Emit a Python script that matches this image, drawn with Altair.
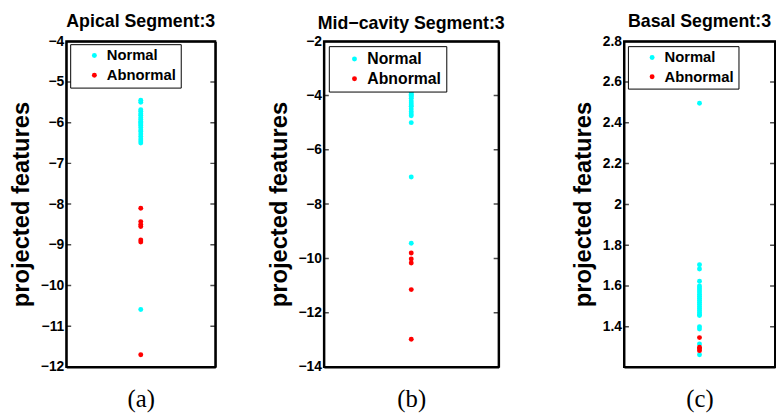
import altair as alt
import pandas as pd

# ---------------- data ----------------
a_normal = [-5.45, -5.5, -5.68, -5.72, -5.78, -5.82, -5.88, -5.92, -5.97, -6.0,
            -6.03, -6.07, -6.12, -6.18, -6.22, -6.28, -6.34, -6.4, -6.45, -6.5, -10.59]
a_abnormal = [-8.1, -8.43, -8.5, -8.55, -8.88, -8.93, -11.7]

b_normal = [-3.85, -3.9, -3.95, -4.0, -4.05, -4.1, -4.2, -4.28, -4.35, -4.4,
            -4.5, -4.6, -4.68, -4.75, -5.0, -7.0, -9.44]
b_abnormal = [-9.8, -10.02, -10.17, -11.15, -12.98]

c_normal = [2.496, 1.704, 1.683, 1.623, 1.60, 1.59, 1.58, 1.57, 1.56, 1.55, 1.54,
            1.53, 1.52, 1.51, 1.50, 1.49, 1.48, 1.47, 1.46, 1.455, 1.40, 1.389,
            1.316, 1.263]
c_abnormal = [1.347, 1.30, 1.292, 1.283]

titles = ["Apical Segment:3", "Mid\u2212cavity Segment:3", "Basal Segment:3"]
captions = ["(a)", "(b)", "(c)"]
y_domains = [[-12, -4], [-14, -2], [1.203, 2.8]]
y_ticks = [
    [-12, -11, -10, -9, -8, -7, -6, -5, -4],
    [-14, -12, -10, -8, -6, -4, -2],
    [1.4, 1.6, 1.8, 2.0, 2.2, 2.4, 2.6, 2.8],
]
classes = ["Normal", "Abnormal"]
class_colors = ["#00FFFF", "#FF0000"]

FONT = "Liberation Sans"


def frame_axis(orient):
    return alt.Axis(orient=orient, title=None, labels=False, ticks=False,
                    grid=False, domain=True, domainColor="#000000",
                    domainWidth=2, domainOpacity=1)


def panel(title, caption, normal, abnormal, ydomain, yticks, width,
          title_offset, leg_x, leg_y, leg_font, leg_pad, leg_row):
    df = pd.DataFrame({
        "x": [0.0] * (len(normal) + len(abnormal)),
        "y": normal + abnormal,
        "cls": ["Normal"] * len(normal) + ["Abnormal"] * len(abnormal),
    })
    tdf = pd.DataFrame({
        "x": [-1.0] * len(yticks) + [1.0] * len(yticks),
        "y": yticks + yticks,
    })
    xscale = alt.Scale(domain=[-1, 1], nice=False, zero=False)
    yscale = alt.Scale(domain=ydomain, nice=False, zero=False)
    xaxis = alt.Axis(orient="bottom", title=caption, labels=False, ticks=False,
                     domain=True, domainColor="#000000", domainWidth=2,
                     domainOpacity=1, grid=False, titleFont="Liberation Serif",
                     titleFontSize=25, titleFontWeight="normal", titlePadding=20,
                     titleColor="black")
    yaxis = alt.Axis(orient="left", values=yticks, format="~g",
                     title="projected features",
                     grid=False, domain=True, domainColor="#000000", domainWidth=2,
                     domainOpacity=1, ticks=False, tickSize=0,
                     labelPadding=2.5, labelFont=FONT, labelFontSize=14,
                     labelFontWeight="bold", labelColor="black",
                     titleFont=FONT, titleFontSize=24, titleFontWeight="bold",
                     titleColor="black", titlePadding=7)
    pts = alt.Chart(df).mark_circle(size=25, opacity=1).encode(
        x=alt.X("x:Q", scale=xscale, axis=xaxis),
        y=alt.Y("y:Q", scale=yscale, axis=yaxis),
        color=alt.Color(
            "cls:N",
            scale=alt.Scale(domain=classes, range=class_colors),
            legend=alt.Legend(
                title=None, orient="none", legendX=leg_x, legendY=leg_y,
                strokeColor="black", fillColor="white", padding=leg_pad,
                cornerRadius=0, symbolType="circle", symbolSize=25,
                symbolOffset=13, labelOffset=5, rowPadding=leg_row,
                labelFont=FONT, labelFontSize=leg_font, labelFontWeight="bold",
                labelColor="black", symbolStrokeWidth=0, symbolOpacity=1,
            ),
        ),
    )
    tk = alt.Chart(tdf).mark_tick(orient="horizontal", size=10, thickness=1.5,
                                  color="black", clip=True).encode(
        x=alt.X("x:Q", scale=xscale, axis=frame_axis("top")),
        y=alt.Y("y:Q", scale=yscale, axis=frame_axis("right")),
    )
    return alt.layer(pts, tk).resolve_axis(x="independent", y="independent").properties(
        width=width, height=330,
        view=alt.ViewBackground(stroke="#000000", strokeWidth=2, strokeOpacity=1,
                                fill="white"),
        title=alt.TitleParams(title, font=FONT, fontSize=18, fontWeight="bold",
                              color="black", anchor="middle", offset=title_offset),
    )


def spacer(w):
    return alt.Chart(pd.DataFrame({"v": [0]})).mark_point(opacity=0).properties(
        width=w, height=330, view=alt.ViewBackground(strokeOpacity=0)
    )


pa = panel(titles[0], captions[0], a_normal, a_abnormal, y_domains[0], y_ticks[0],
           151, 3.5, 4, 3, 15, 4, 4)
pb = panel(titles[1], captions[1], b_normal, b_abnormal, y_domains[1], y_ticks[1],
           177, 1.5, 5, 5, 16, 5, 4)
pc = panel(titles[2], captions[2], c_normal, c_abnormal, y_domains[2], y_ticks[2],
           153, 3.5, 4, 5, 15, 4, 3.5)

chart = alt.hconcat(pa, spacer(110), pb, spacer(127), pc, spacing=0,
                    bounds="flush").resolve_scale(color="independent").resolve_legend(
    color="independent"
).properties(
    padding={"left": 0, "top": 1, "right": 0, "bottom": 0},
    background="white",
).configure(font=FONT).configure_view(stroke="#000000", strokeWidth=2,
                                      strokeOpacity=1)

chart.save("out.html", embed_options={"renderer": "svg", "actions": False})
